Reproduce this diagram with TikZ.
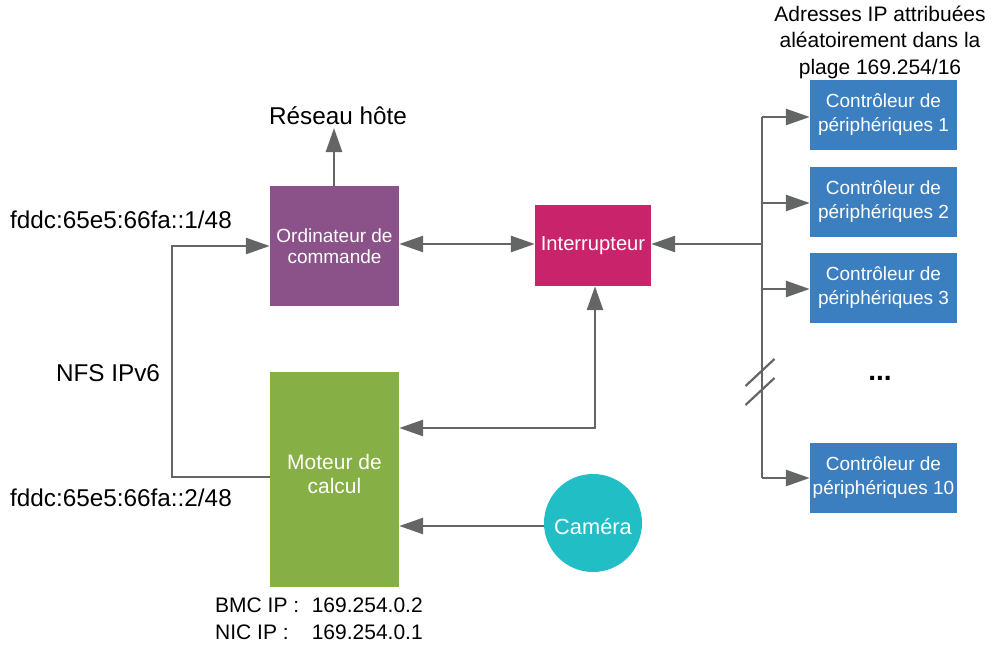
\documentclass[tikz,border=0pt]{standalone}
\usepackage{fontspec}
\setmainfont{Liberation Sans}
\usetikzlibrary{arrows.meta}
\definecolor{lineg}{HTML}{646665}
\definecolor{cpurple}{HTML}{8B5289}
\definecolor{cmagenta}{HTML}{C8236B}
\definecolor{cgreen}{HTML}{86B045}
\definecolor{cteal}{HTML}{22BEC6}
\definecolor{cblue}{HTML}{3C7FC1}
\tikzset{
  box/.style={draw=none, text=white, align=center, inner sep=0pt,
    font=\fontsize{19}{24}\selectfont},
  lbl/.style={inner sep=0pt, font=\fontsize{21}{26.5}\selectfont},
  biglbl/.style={inner sep=0pt, font=\fontsize{24.3}{28}\selectfont},
  conn/.style={draw=lineg, line width=2.6pt},
  arr/.style={conn, -{Triangle[length=24pt,width=16pt]}},
  darr/.style={conn, {Triangle[length=24pt,width=16pt]}-{Triangle[length=24pt,width=16pt]}},
}
\begin{document}
\begin{tikzpicture}[x=1pt,y=-1pt]
\useasboundingbox (0,0) rectangle (994,648);
% boxes
\node[box, fill=cpurple, minimum width=129pt, minimum height=120pt, font=\fontsize{19}{21.5}\selectfont] (ord) at (334.5,246) {Ordinateur de\\commande};
\node[box, fill=cmagenta, minimum width=116pt, minimum height=81pt, font=\fontsize{20.2}{24}\selectfont] (sw) at (593,245.5) {Interrupteur};
\node[box, fill=cgreen, minimum width=129pt, minimum height=215pt] (mot) at (334.5,479.5) {};
\node[box, font=\fontsize{21}{24}\selectfont] (motl) at (334.5,474) {Moteur de\\calcul};
\node[box, fill=cteal, circle, minimum size=98pt] (cam) at (593,523) {};
\node[box, font=\fontsize{21.8}{24}\selectfont] (caml) at (593,527) {Caméra};
\node[box, fill=cblue, minimum width=147pt, minimum height=70pt] (c1) at (883.5,115) {Contrôleur de\\périphériques 1};
\node[box, fill=cblue, minimum width=147pt, minimum height=70pt] (c2) at (883.5,201.5) {Contrôleur de\\périphériques 2};
\node[box, fill=cblue, minimum width=147pt, minimum height=70pt] (c3) at (883.5,288) {Contrôleur de\\périphériques 3};
\node[box, fill=cblue, minimum width=147pt, minimum height=70pt] (c10) at (883.5,477.5) {Contrôleur de\\périphériques 10};
% labels
\node[biglbl] (reseau) at (338,116) {Réseau hôte};
\node[biglbl, anchor=west] (ip1) at (10,220) {fddc:65e5:66fa::1/48};
\node[biglbl] (nfs) at (108,373) {NFS IPv6};
\node[biglbl, anchor=west] (ip2) at (10,498) {fddc:65e5:66fa::2/48};
\node[lbl, anchor=north west] (bmc) at (215,594) {\begin{tabular}{@{}l@{\hspace{0.6em}}l@{}}BMC IP : & 169.254.0.2\\NIC IP : & 169.254.0.1\end{tabular}};
\node[lbl, align=center] (adr) at (880,42) {Adresses IP attribuées\\aléatoirement dans la\\plage 169.254/16};
\node[lbl, font=\bfseries\fontsize{28}{28}\selectfont] (dots) at (880,378) {...};
% coordinates
\coordinate (bt) at (762,117);
\coordinate (b2) at (762,203);
\coordinate (b3) at (762,289);
\coordinate (bsw) at (762,244);
\coordinate (bb) at (762,478);
\coordinate (nfsa) at (172,477);
\coordinate (nfsb) at (172,246);
\coordinate (mi) at (595,428);
\coordinate (rh) at (334,128);
\coordinate (s1a) at (745.5,386); \coordinate (s1b) at (774.5,359);
\coordinate (s2a) at (745.5,405); \coordinate (s2b) at (774.5,378);
% connectors
\draw[arr] (ord.north -| rh) -- (rh);
\draw[arr] (mot.west |- nfsa) -- (nfsa) -- (nfsb) -- (ord.west |- nfsb);
\draw[darr] (ord.east |- 0,244) -- (sw.west |- 0,244);
\draw[conn] (bt) -- (bb);
\draw[arr] (bsw) -- (sw.east |- bsw);
\draw[arr] (bt) -- (c1.west |- bt);
\draw[arr] (b2) -- (c2.west |- b2);
\draw[arr] (b3) -- (c3.west |- b3);
\draw[arr] (bb) -- (c10.west |- bb);
\draw[darr] (mot.east |- mi) -- (mi) -- (sw.south -| mi);
\draw[arr] (cam.west |- 0,526) -- (mot.east |- 0,526);
\draw[conn, line width=2.2pt] (s1a) -- (s1b);
\draw[conn, line width=2.2pt] (s2a) -- (s2b);
\end{tikzpicture}
\end{document}
